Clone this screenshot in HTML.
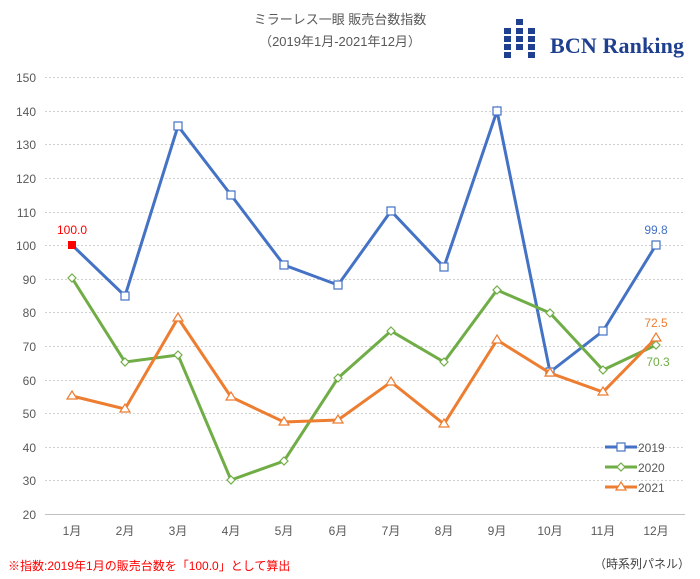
<!DOCTYPE html>
<html><head><meta charset="utf-8"><style>body{margin:0;background:#fff}svg{display:block}</style></head>
<body>
<svg width="700" height="579" xmlns="http://www.w3.org/2000/svg" font-family="Liberation Sans, Noto Sans CJK JP, sans-serif">
<rect width="700" height="579" fill="#fff"/>
<text x="340" y="24" font-size="13" fill="#595959" text-anchor="middle">ミラーレス一眼 販売台数指数</text>
<text x="340" y="46" font-size="13" fill="#595959" text-anchor="middle">（2019年1月-2021年12月）</text>
<g fill="#1f3f8f">
<rect x="516" y="19" width="7" height="6"/>
<rect x="504" y="28" width="7" height="6"/><rect x="516" y="28" width="7" height="6"/><rect x="528" y="28" width="7" height="6"/>
<rect x="504" y="36" width="7" height="6"/><rect x="516" y="36" width="7" height="6"/><rect x="528" y="36" width="7" height="6"/>
<rect x="504" y="44" width="7" height="6"/><rect x="516" y="44" width="7" height="6"/><rect x="528" y="44" width="7" height="6"/>
<rect x="504" y="52" width="7" height="6"/><rect x="528" y="52" width="7" height="6"/>
</g>
<text x="550" y="53" font-family="Liberation Serif, serif" font-weight="bold" font-size="22" fill="#1f3f8f" textLength="134">BCN Ranking</text>
<g stroke="#d0d0d0" stroke-dasharray="2,2" stroke-width="1">
<line x1="45" x2="685" y1="77.5" y2="77.5"/><line x1="45" x2="685" y1="111.5" y2="111.5"/><line x1="45" x2="685" y1="144.5" y2="144.5"/><line x1="45" x2="685" y1="178.5" y2="178.5"/><line x1="45" x2="685" y1="212.5" y2="212.5"/><line x1="45" x2="685" y1="245.5" y2="245.5"/><line x1="45" x2="685" y1="279.5" y2="279.5"/><line x1="45" x2="685" y1="312.5" y2="312.5"/><line x1="45" x2="685" y1="346.5" y2="346.5"/><line x1="45" x2="685" y1="380.5" y2="380.5"/><line x1="45" x2="685" y1="413.5" y2="413.5"/><line x1="45" x2="685" y1="447.5" y2="447.5"/><line x1="45" x2="685" y1="480.5" y2="480.5"/>
</g>
<line x1="45" x2="685" y1="514.5" y2="514.5" stroke="#bfbfbf"/>
<g font-size="12" fill="#595959" text-anchor="end">
<text x="36" y="82">150</text><text x="36" y="116">140</text><text x="36" y="149">130</text><text x="36" y="183">120</text><text x="36" y="217">110</text><text x="36" y="250">100</text><text x="36" y="284">90</text><text x="36" y="317">80</text><text x="36" y="351">70</text><text x="36" y="385">60</text><text x="36" y="418">50</text><text x="36" y="452">40</text><text x="36" y="485">30</text><text x="36" y="519">20</text>
</g>
<g font-size="12" fill="#595959" text-anchor="middle">
<text x="72" y="535">1月</text><text x="125" y="535">2月</text><text x="178" y="535">3月</text><text x="231" y="535">4月</text><text x="284" y="535">5月</text><text x="338" y="535">6月</text><text x="391" y="535">7月</text><text x="444" y="535">8月</text><text x="497" y="535">9月</text><text x="550" y="535">10月</text><text x="603" y="535">11月</text><text x="656" y="535">12月</text>
</g>
<polyline fill="none" stroke="#4472c4" stroke-width="3" points="72,245 125,296 178,126 231,195 284,265 338,285 391,211 444,267 497,111 550,372 603,331 656,245"/>
<g fill="#fff" stroke="#4472c4" stroke-width="1.2">
<rect x="121" y="292" width="8" height="8"/><rect x="174" y="122" width="8" height="8"/><rect x="227" y="191" width="8" height="8"/><rect x="280" y="261" width="8" height="8"/><rect x="334" y="281" width="8" height="8"/><rect x="387" y="207" width="8" height="8"/><rect x="440" y="263" width="8" height="8"/><rect x="493" y="107" width="8" height="8"/><rect x="546" y="368" width="8" height="8"/><rect x="599" y="327" width="8" height="8"/><rect x="652" y="241" width="8" height="8"/>
</g>
<rect x="68" y="241" width="8" height="8" fill="#ff0000"/>
<polyline fill="none" stroke="#70ad47" stroke-width="3" points="72,278 125,362 178,355 231,480 284,461 338,378 391,331 444,362 497,290 550,313 603,370 656,345"/>
<g fill="#fff" stroke="#70ad47" stroke-width="1.2">
<path d="M72,274l4,4l-4,4l-4,-4z"/><path d="M125,358l4,4l-4,4l-4,-4z"/><path d="M178,351l4,4l-4,4l-4,-4z"/><path d="M231,476l4,4l-4,4l-4,-4z"/><path d="M284,457l4,4l-4,4l-4,-4z"/><path d="M338,374l4,4l-4,4l-4,-4z"/><path d="M391,327l4,4l-4,4l-4,-4z"/><path d="M444,358l4,4l-4,4l-4,-4z"/><path d="M497,286l4,4l-4,4l-4,-4z"/><path d="M550,309l4,4l-4,4l-4,-4z"/><path d="M603,366l4,4l-4,4l-4,-4z"/><path d="M656,341l4,4l-4,4l-4,-4z"/>
</g>
<polyline fill="none" stroke="#ed7d31" stroke-width="3" points="72,396 125,409 178,318 231,397 284,422 338,420 391,382 444,424 497,340 550,373 603,392 656,338"/>
<g fill="#fff" stroke="#ed7d31" stroke-width="1.2">
<path d="M72,391l5,8h-10z"/><path d="M125,404l5,8h-10z"/><path d="M178,313l5,8h-10z"/><path d="M231,392l5,8h-10z"/><path d="M284,417l5,8h-10z"/><path d="M338,415l5,8h-10z"/><path d="M391,377l5,8h-10z"/><path d="M444,419l5,8h-10z"/><path d="M497,335l5,8h-10z"/><path d="M550,368l5,8h-10z"/><path d="M603,387l5,8h-10z"/><path d="M656,333l5,8h-10z"/>
</g>
<text x="72" y="234" font-size="12" fill="#ff0000" text-anchor="middle">100.0</text>
<text x="656" y="234" font-size="12" fill="#4472c4" text-anchor="middle">99.8</text>
<text x="656" y="327" font-size="12" fill="#ed7d31" text-anchor="middle">72.5</text>
<text x="658" y="366" font-size="12" fill="#70ad47" text-anchor="middle">70.3</text>
<g stroke-width="3">
<line x1="605" x2="637" y1="447" y2="447" stroke="#4472c4"/><rect x="617" y="443" width="8" height="8" fill="#fff" stroke="#4472c4" stroke-width="1.2"/>
<line x1="605" x2="637" y1="467" y2="467" stroke="#70ad47"/><path d="M621,463l4,4l-4,4l-4,-4z" fill="#fff" stroke="#70ad47" stroke-width="1.2"/>
<line x1="605" x2="637" y1="487" y2="487" stroke="#ed7d31"/><path d="M621,482l5,8h-10z" fill="#fff" stroke="#ed7d31" stroke-width="1.2"/>
</g>
<g font-size="12" fill="#595959"><text x="638" y="452">2019</text><text x="638" y="472">2020</text><text x="638" y="492">2021</text></g>
<text x="8" y="570" font-size="12" fill="#ff0000">※指数:2019年1月の販売台数を「100.0」として算出</text>
<text x="690" y="568" font-size="12" fill="#404040" text-anchor="end">（時系列パネル）</text>
</svg>
</body></html>
